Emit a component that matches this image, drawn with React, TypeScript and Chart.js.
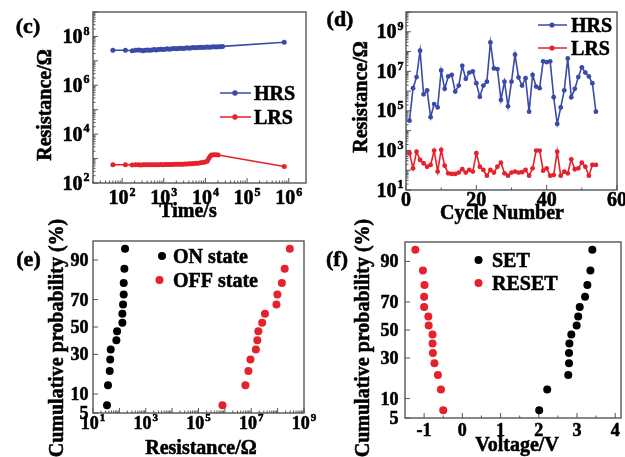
import React, { useEffect, useRef } from 'react';
import { Chart, registerables, LinearScale } from 'chart.js';

// ---------- (c) retention ----------
const hrsTime = [60, 120, 175, 210, 245, 280, 320, 360, 410, 460, 520, 590, 660, 750, 850, 960, 1080, 1220, 1380, 1560, 1760, 1990, 2250, 2540, 2870, 3240, 3660, 4140, 4680, 5290, 5980, 6760, 7640, 8630, 9750, 11000, 12400, 14000, 15800, 17900, 20200, 22800, 25800, 780000];
const hrsRes = [2.7e7, 2.7e7, 2.6e7, 2.7e7, 2.8e7, 2.7e7, 2.6e7, 2.7e7, 2.8e7, 2.7e7, 2.8e7, 2.9e7, 2.8e7, 2.9e7, 3.0e7, 2.9e7, 3.0e7, 3.1e7, 3.0e7, 3.1e7, 3.2e7, 3.1e7, 3.2e7, 3.3e7, 3.2e7, 3.3e7, 3.4e7, 3.3e7, 3.4e7, 3.5e7, 3.4e7, 3.5e7, 3.6e7, 3.5e7, 3.6e7, 3.7e7, 3.6e7, 3.7e7, 3.8e7, 3.7e7, 3.8e7, 3.8e7, 3.9e7, 5.8e7];
const lrsTime = [60, 120, 175, 210, 245, 280, 320, 360, 410, 460, 520, 590, 660, 750, 850, 960, 1080, 1220, 1380, 1560, 1760, 1990, 2250, 2540, 2870, 3240, 3660, 4140, 4680, 5290, 5980, 6760, 7640, 8630, 9750, 11000, 12000, 13000, 14000, 15800, 17900, 20200, 780000];
const lrsRes = [560, 560, 550, 560, 560, 550, 560, 560, 555, 560, 560, 565, 560, 565, 570, 565, 570, 575, 570, 575, 580, 580, 585, 590, 590, 600, 600, 610, 620, 630, 640, 650, 670, 690, 720, 780, 1000, 1250, 1400, 1450, 1450, 1400, 470];
const timeTickExps = [2, 3, 4, 5, 6];
const retentionTickExps = [2, 4, 6, 8];

// ---------- (d) endurance ----------
const cycles = [1, 2, 3, 4, 5, 6, 7, 8, 9, 10, 11, 12, 13, 14, 15, 16, 17, 18, 19, 20, 21, 22, 23, 24, 25, 26, 27, 28, 29, 30, 31, 32, 33, 34, 35, 36, 37, 38, 39, 40, 41, 42, 43, 44, 45, 46, 47, 48, 49, 50, 51, 52, 53, 54];
const cycleHRS = [3.2e4, 1.4e6, 5.1e6, 1.1e8, 6.9e5, 1.1e6, 4.8e4, 2.2e5, 1.5e5, 1.1e7, 1.3e6, 5.5e6, 6.6e6, 9.5e5, 1.9e6, 1.9e7, 4.2e6, 8.7e6, 9.8e6, 2.5e6, 5.2e5, 1.9e6, 3.0e6, 2.9e8, 1.4e7, 1.3e7, 3.6e5, 3.0e6, 1.7e5, 3.0e6, 6.9e7, 4.9e6, 1.9e6, 4.5e6, 9.1e4, 6.6e6, 1.7e6, 1.4e6, 3.2e7, 2.9e7, 3.2e7, 4.9e5, 2.2e4, 1.5e5, 1.1e6, 4.5e7, 4.9e5, 1.3e6, 5.1e6, 1.6e7, 8.7e6, 5.5e6, 2.5e6, 9.1e4];
const cycleLRS = [720, 125, 870, 330, 225, 150, 185, 980, 85, 1070, 170, 70, 65, 65, 76, 112, 76, 103, 85, 720, 150, 103, 53, 103, 76, 150, 240, 70, 53, 76, 85, 76, 80, 103, 53, 125, 980, 980, 95, 125, 53, 57, 870, 53, 85, 70, 355, 112, 125, 240, 150, 53, 185, 185];
const cycleTicks = [0, 20, 40, 60];
const enduranceTickExps = [1, 3, 5, 7, 9];

// ---------- (e) resistance distribution ----------
const cumulativeProb = [6.7, 13.3, 20, 26.7, 33.3, 40, 46.7, 53.3, 60, 66.7, 73.3, 80, 86.7, 93.3];
const onStateRes = [34, 37, 43, 45, 47, 77, 82, 130, 130, 138, 146, 146, 155, 164];
const offStateRes = [8.1e5, 6.0e6, 7.8e6, 9.3e6, 1.5e7, 1.7e7, 1.85e7, 2.6e7, 3.3e7, 9.0e7, 9.8e7, 1.45e8, 1.85e8, 2.9e8];
const distTickExps = [1, 3, 5, 7, 9];
const probTicks = [5, 10, 30, 50, 70, 90];

// ---------- (f) switching voltage distribution ----------
const setVoltage = [2.01, 2.22, 2.77, 2.79, 2.79, 2.8, 2.85, 2.99, 3.03, 3.07, 3.21, 3.27, 3.35, 3.4];
const resetVoltage = [-0.5, -0.56, -0.64, -0.73, -0.77, -0.78, -0.78, -0.88, -0.89, -1.0, -1.0, -0.99, -1.03, -1.23];
const voltageTicks = [-1, 0, 1, 2, 3, 4];

const W = 625;
const H = 457;
const SERIF = "'Liberation Serif', 'Times New Roman', Times, serif";
const BLUE = '#3a4aa8';
const RED = '#e5222b';
const BLACK = '#000000';
const FRAME = '#555555';
const TITLE_PX = 20;
const LEGEND_PX = 20;
const LETTER_PX = 22;
const font = (px: number) => `bold ${px}px ${SERIF}`;

// inverse of the standard normal CDF (Acklam), input in percent
function probit(pct: number): number {
  const p = pct / 100;
  const a = [-39.69683028665376, 220.9460984245205, -275.9285104469687, 138.357751867269, -30.66479806614716, 2.506628277459239];
  const b = [-54.47609879822406, 161.5858368580409, -155.6989798598866, 66.80131188771972, -13.28068155288572];
  const c = [-0.007784894002430293, -0.3223964580411365, -2.400758277161838, -2.549732539343734, 4.374664141464968, 2.938163982698783];
  const d = [0.007784695709041462, 0.3224671290700398, 2.445134137142996, 3.754408661907416];
  const pl = 0.02425;
  if (p < pl) {
    const q = Math.sqrt(-2 * Math.log(p));
    return (((((c[0] * q + c[1]) * q + c[2]) * q + c[3]) * q + c[4]) * q + c[5]) / ((((d[0] * q + d[1]) * q + d[2]) * q + d[3]) * q + 1);
  }
  if (p > 1 - pl) {
    const q = Math.sqrt(-2 * Math.log(1 - p));
    return -(((((c[0] * q + c[1]) * q + c[2]) * q + c[3]) * q + c[4]) * q + c[5]) / ((((d[0] * q + d[1]) * q + d[2]) * q + d[3]) * q + 1);
  }
  const q = p - 0.5;
  const r = q * q;
  return ((((((a[0] * r + a[1]) * r + a[2]) * r + a[3]) * r + a[4]) * r + a[5]) * q) / (((((b[0] * r + b[1]) * r + b[2]) * r + b[3]) * r + b[4]) * r + 1);
}

// normal-probability axis: values in percent, spaced by their normal quantile
class ProbabilityScale extends LinearScale {
  static id = 'probability';
  static defaults = { ticks: { callback: (v: number) => String(v) } };
  getPixelForValue(value: number) {
    const lo = probit(this.min);
    const hi = probit(this.max);
    return this.getPixelForDecimal((probit(value) - lo) / (hi - lo));
  }
}

Chart.register(...registerables, ProbabilityScale);

// heavy serif text: fill plus a hairline stroke in the same colour
function boldText(ctx: CanvasRenderingContext2D, text: string, x: number, y: number) {
  ctx.lineWidth = 0.55;
  ctx.strokeStyle = ctx.fillStyle as string;
  ctx.strokeText(text, x, y);
  ctx.fillText(text, x, y);
}

type Tick = { value: number; text: string; exp?: string };
type LegendItem = { text: string; color: string; y: number; markerX: number; textX: number; r: number; line?: [number, number] };
type Decor = {
  letter: string; letterX: number; letterY: number;
  tickPx: number;
  xLabels: Tick[]; yLabels: Tick[];
  xMajor: number[]; xMinor: number[]; yMajor: number[]; yMinor: number[];
  xLabelY: number; yLabelRight: number;
  xTitle: string; xTitleX: number; xTitleY: number;
  yTitle: string; yTitleX: number; yTitleY: number;
  legend: LegendItem[];
};

const powLabels = (exps: number[]): Tick[] => exps.map((e) => ({ value: Math.pow(10, e), text: '10', exp: String(e) }));
const plainLabels = (vals: number[]): Tick[] => vals.map((v) => ({ value: v, text: String(v) }));
function logMinor(fromExp: number, toExp: number): number[] {
  const out: number[] = [];
  for (let e = fromExp; e < toExp; e++) for (let m = 2; m <= 9; m++) out.push(m * Math.pow(10, e));
  return out;
}
function decades(fromExp: number, toExp: number): number[] {
  const out: number[] = [];
  for (let e = fromExp; e <= toExp; e++) out.push(Math.pow(10, e));
  return out;
}

function drawTickLabel(ctx: CanvasRenderingContext2D, t: Tick, px: number, x: number, cy: number, align: 'center' | 'right') {
  const supPx = Math.round(px * 0.62);
  ctx.font = font(px);
  const w1 = ctx.measureText(t.text).width;
  let w2 = 0;
  if (t.exp) {
    ctx.font = font(supPx);
    w2 = ctx.measureText(t.exp).width + 1;
  }
  const total = w1 + w2;
  const sx = align === 'center' ? x - total / 2 : x - total;
  const base = cy + px * 0.33;
  ctx.textAlign = 'left';
  ctx.textBaseline = 'alphabetic';
  ctx.font = font(px);
  boldText(ctx, t.text, sx, base);
  if (t.exp) {
    ctx.font = font(supPx);
    boldText(ctx, t.exp, sx + w1 + 1, base - px * 0.42);
  }
}

function decorPlugin(d: Decor) {
  return {
    id: 'panelDecor',
    beforeDatasetsDraw(chart: any) {
      const { ctx, chartArea: a } = chart;
      const xs = chart.scales.x;
      const ys = chart.scales.y;
      ctx.save();
      ctx.strokeStyle = FRAME;
      ctx.lineWidth = 1.4;
      ctx.strokeRect(a.left, a.top, a.right - a.left, a.bottom - a.top);
      ctx.lineWidth = 1;
      ctx.beginPath();
      const xt = (v: number, len: number) => {
        const p = xs.getPixelForValue(v);
        if (p < a.left - 0.5 || p > a.right + 0.5) return;
        ctx.moveTo(p, a.bottom);
        ctx.lineTo(p, a.bottom - len);
      };
      const yt = (v: number, len: number) => {
        const p = ys.getPixelForValue(v);
        if (p < a.top - 0.5 || p > a.bottom + 0.5) return;
        ctx.moveTo(a.left, p);
        ctx.lineTo(a.left + len, p);
      };
      d.xMajor.forEach((v) => xt(v, 5));
      d.xMinor.forEach((v) => xt(v, 2.5));
      d.yMajor.forEach((v) => yt(v, 5));
      d.yMinor.forEach((v) => yt(v, 2.5));
      ctx.stroke();
      ctx.restore();
    },
    afterDraw(chart: any) {
      const { ctx } = chart;
      const xs = chart.scales.x;
      const ys = chart.scales.y;
      ctx.save();
      ctx.fillStyle = '#000000';
      d.xLabels.forEach((t) => drawTickLabel(ctx, t, d.tickPx, xs.getPixelForValue(t.value), d.xLabelY, 'center'));
      d.yLabels.forEach((t) => drawTickLabel(ctx, t, d.tickPx, d.yLabelRight, ys.getPixelForValue(t.value), 'right'));

      ctx.font = font(TITLE_PX);
      ctx.textAlign = 'center';
      ctx.textBaseline = 'middle';
      boldText(ctx, d.xTitle, d.xTitleX, d.xTitleY);
      ctx.save();
      ctx.translate(d.yTitleX, d.yTitleY);
      ctx.rotate(-Math.PI / 2);
      boldText(ctx, d.yTitle, 0, 0);
      ctx.restore();

      ctx.font = font(LETTER_PX);
      boldText(ctx, d.letter, d.letterX, d.letterY);

      d.legend.forEach((it) => {
        if (it.line) {
          ctx.strokeStyle = it.color;
          ctx.lineWidth = 1.5;
          ctx.beginPath();
          ctx.moveTo(it.line[0], it.y);
          ctx.lineTo(it.line[1], it.y);
          ctx.stroke();
        }
        ctx.fillStyle = it.color;
        ctx.beginPath();
        ctx.arc(it.markerX, it.y, it.r, 0, Math.PI * 2);
        ctx.fill();
        ctx.fillStyle = '#000000';
        ctx.font = font(LEGEND_PX);
        ctx.textAlign = 'left';
        ctx.textBaseline = 'alphabetic';
        boldText(ctx, it.text, it.textX, it.y + LEGEND_PX * 0.33);
      });
      ctx.restore();
    },
  };
}

function panelConfig(datasets: any[], scales: any, padding: any, decor: Decor) {
  return {
    type: 'scatter',
    data: { datasets },
    options: {
      responsive: false,
      animation: false,
      events: [],
      layout: { padding },
      plugins: { legend: { display: false }, tooltip: { enabled: false } },
      scales,
    },
    plugins: [decorPlugin(decor)],
  };
}

const pts = (xs: number[], ys: number[]) => xs.map((x, i) => ({ x, y: ys[i] }));
const lineSet = (data: any[], color: string, r: number) => ({
  data, showLine: true, borderColor: color, backgroundColor: color, borderWidth: 1.6,
  pointRadius: r, pointBorderWidth: 0, pointBackgroundColor: color,
});
const dotSet = (data: any[], color: string) => ({
  data, showLine: false, backgroundColor: color, borderColor: color,
  pointRadius: 4, pointBorderWidth: 0, pointBackgroundColor: color,
});

function retentionConfig() {
  return panelConfig(
    [lineSet(pts(hrsTime, hrsRes), BLUE, 2.5), lineSet(pts(lrsTime, lrsRes), RED, 2.5)],
    {
      x: { type: 'logarithmic', min: 20, max: 2.6e6, display: false },
      y: { type: 'logarithmic', min: 1e2, max: 1e9, display: false },
    },
    { left: 93, top: 12, right: W - 306, bottom: H - 183 },
    {
      letter: '(c)', letterX: 28, letterY: 27, tickPx: 20,
      xLabels: powLabels(timeTickExps), yLabels: powLabels(retentionTickExps),
      xMajor: decades(1, 6), xMinor: logMinor(1, 6), yMajor: decades(2, 9), yMinor: logMinor(2, 9),
      xLabelY: 197.5, yLabelRight: 89.5,
      xTitle: 'Time/s', xTitleX: 188, xTitleY: 212,
      yTitle: 'Resistance/Ω', yTitleX: 46, yTitleY: 105,
      legend: [
        { text: 'HRS', color: BLUE, y: 93, markerX: 235, textX: 254, r: 2.7, line: [220, 251] },
        { text: 'LRS', color: RED, y: 117, markerX: 235, textX: 254, r: 2.7, line: [220, 251] },
      ],
    },
  );
}

function enduranceConfig() {
  return panelConfig(
    [lineSet(pts(cycles, cycleHRS), BLUE, 2.4), lineSet(pts(cycles, cycleLRS), RED, 2.4)],
    {
      x: { type: 'linear', min: 0, max: 60, display: false },
      y: { type: 'logarithmic', min: 1e1, max: 1e10, display: false },
    },
    { left: 406, top: 12, right: W - 617, bottom: H - 190 },
    {
      letter: '(d)', letterX: 340, letterY: 20, tickPx: 20,
      xLabels: plainLabels(cycleTicks), yLabels: powLabels(enduranceTickExps),
      xMajor: cycleTicks, xMinor: [10, 30, 50], yMajor: decades(1, 10), yMinor: logMinor(1, 10),
      xLabelY: 199, yLabelRight: 403.5,
      xTitle: 'Cycle Number', xTitleX: 502, xTitleY: 214,
      yTitle: 'Resistance/Ω', yTitleX: 362, yTitleY: 97,
      legend: [
        { text: 'HRS', color: BLUE, y: 25, markerX: 552, textX: 571, r: 2.6, line: [538, 567] },
        { text: 'LRS', color: RED, y: 48, markerX: 552, textX: 571, r: 2.6, line: [538, 567] },
      ],
    },
  );
}

function distributionConfig() {
  return panelConfig(
    [dotSet(pts(onStateRes, cumulativeProb), BLACK), dotSet(pts(offStateRes, cumulativeProb), RED)],
    {
      x: { type: 'logarithmic', min: 1e1, max: 1e9, display: false },
      y: { type: 'probability', min: 5, max: 95, display: false },
    },
    { left: 93, top: 241, right: W - 304, bottom: H - 413 },
    {
      letter: '(e)', letterX: 28.5, letterY: 260, tickPx: 18,
      xLabels: powLabels(distTickExps), yLabels: plainLabels(probTicks),
      xMajor: decades(1, 9), xMinor: logMinor(1, 9), yMajor: probTicks, yMinor: [],
      xLabelY: 423, yLabelRight: 88.5,
      xTitle: 'Resistance/Ω', xTitleX: 201, xTitleY: 449,
      yTitle: 'Cumulative probability (%)', yTitleX: 58, yTitleY: 338,
      legend: [
        { text: 'ON state', color: BLACK, y: 256, markerX: 162, textX: 173, r: 4 },
        { text: 'OFF state', color: RED, y: 280, markerX: 159.5, textX: 173, r: 4 },
      ],
    },
  );
}

function voltageConfig() {
  return panelConfig(
    [dotSet(pts(setVoltage, cumulativeProb), BLACK), dotSet(pts(resetVoltage, cumulativeProb), RED)],
    {
      x: { type: 'linear', min: -1.5, max: 4.15, display: false },
      y: { type: 'probability', min: 5, max: 95, display: false },
    },
    { left: 405, top: 242, right: W - 623, bottom: H - 418 },
    {
      letter: '(f)', letterX: 337, letterY: 260, tickPx: 18,
      xLabels: plainLabels(voltageTicks), yLabels: plainLabels(probTicks),
      xMajor: voltageTicks, xMinor: [-0.5, 0.5, 1.5, 2.5, 3.5], yMajor: probTicks, yMinor: [],
      xLabelY: 430, yLabelRight: 398.5,
      xTitle: 'Voltage/V', xTitleX: 517, xTitleY: 446,
      yTitle: 'Cumulative probability (%)', yTitleX: 364, yTitleY: 338,
      legend: [
        { text: 'SET', color: BLACK, y: 260, markerX: 478.5, textX: 492, r: 4 },
        { text: 'RESET', color: RED, y: 283, markerX: 478.5, textX: 492, r: 4 },
      ],
    },
  );
}

function Panel({ make }: { make: () => any }) {
  const ref = useRef<HTMLCanvasElement>(null);
  useEffect(() => {
    const chart = new Chart(ref.current as HTMLCanvasElement, make());
    return () => chart.destroy();
  }, [make]);
  return <canvas ref={ref} width={W} height={H} style={{ position: 'absolute', left: 0, top: 0 }} />;
}

export default function App() {
  return (
    <div style={{ position: 'absolute', left: 0, top: 0, width: W, height: H, background: '#ffffff', overflow: 'hidden' }}>
      <Panel make={retentionConfig} />
      <Panel make={enduranceConfig} />
      <Panel make={distributionConfig} />
      <Panel make={voltageConfig} />
    </div>
  );
}
